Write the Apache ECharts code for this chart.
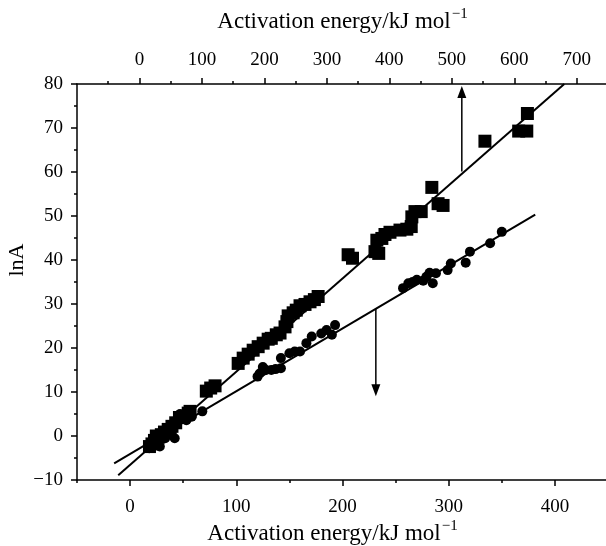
<!DOCTYPE html>
<html><head><meta charset="utf-8">
<script src="https://cdn.jsdelivr.net/npm/echarts@6/dist/echarts.min.js"></script>
<style>html,body{margin:0;padding:0;background:#fff}#c{width:606px;height:546px}</style>
</head><body><div id="c"></div>
<script>
// Squares: plotted against the TOP axis (activation energy, kJ/mol), lnA
const squarePoints = [
  [16,-2.4],[20,-1.8],[24,-1.0],[27,0.0],[30,-0.3],[35,0.3],[40,0.9],[46,1.5],[49,1.4],[52,2.2],
  [58,3.0],[64,4.2],[70,4.4],[78,5.2],[81,5.6],
  [107,10.2],[114,10.9],[121,11.4],
  [158,16.5],[166,17.7],[174,18.6],[182,19.5],[190,20.3],[198,21.1],[206,22.0],[211,22.2],
  [219,23.0],[225,23.4],[233,24.8],[236,26.0],[238,27.3],[246,28.0],[251,28.6],[257,29.6],
  [265,29.9],[273,30.5],[280,31.0],[286,31.7],
  [334,41.2],[341,40.4],
  [377,41.9],[383,41.5],[380,44.5],[388,44.9],[393,45.8],[401,46.3],[417,46.8],[428,47.0],
  [435,47.6],[436,49.8],[441,51.0],[451,51.0],
  [468,56.5],[478,52.8],[486,52.4],
  [553,67.0],[607,69.3],[620,69.3],[621,73.3]
];
// Circles: plotted against the BOTTOM axis (activation energy, kJ/mol), lnA
const circlePoints = [
  [18,-2.8],[22,-1.8],[28,-2.4],[33,-0.5],[38,0.4],[42,-0.5],[47,5.0],[53,3.6],[58,4.4],[68,5.6],
  [120,13.5],[122,14.2],[125,15.7],[128,15.0],[133,15.0],[137,15.2],[142,15.4],[142,17.7],
  [150,18.8],[155,19.2],[160,19.2],[166,21.1],[171,22.6],[180,23.3],[185,24.1],[190,23.0],[193,25.2],
  [257,33.6],[262,34.7],[266,35.0],[270,35.5],[276,35.3],[279,36.2],[282,37.1],[285,34.7],
  [288,37.0],[299,37.7],[302,39.2],[316,39.4],[320,41.9],[339,43.8],[350,46.4]
];
// Fitted lines (endpoints)
const squareFit = [[-34,-8.9],[680,80]];
const circleFit = [[-15,-6.2],[381.5,50.3]];
// Arrows: [x, yStart, yEnd]
const upArrow = [516, 60.1, 78.2];
const downArrow = [231.4, 29.0, 10.4];
// Tick values
const topTicks = [0,100,200,300,400,500,600,700];
const topMinor = [-50,50,150,250,350,450,550,650,750];
const bottomTicks = [0,100,200,300,400];
const bottomMinor = [-50,50,150,250,350,450];
const xTitle = 'Activation energy/kJ mol{s|\u22121}';
const yTitle = 'lnA';

const FONT = 'Liberation Serif';
const BLACK = '#000';
function nameStyle(pad) {
  return {
    fontFamily: FONT, fontSize: 23, color: BLACK, padding: pad,
    rich: { s: { fontFamily: FONT, fontSize: 15, color: BLACK, verticalAlign: 'top', padding: [0,0,14,1] } }
  };
}
function majorX(pos, min, max, ticks, gap, margin, pad) {
  return {
    type: 'value', position: pos, min: min, max: max,
    name: xTitle, nameLocation: 'middle', nameGap: gap, nameTextStyle: nameStyle(pad),
    nameMoveOverlap: false,
    axisLine: { show: true, onZero: false, lineStyle: { color: BLACK, width: 1.5 } },
    axisTick: { show: true, inside: false, length: 6, customValues: ticks, lineStyle: { color: BLACK, width: 1.5 } },
    axisLabel: { show: true, customValues: ticks, margin: margin, fontFamily: FONT, fontSize: 19, color: BLACK },
    splitLine: { show: false }
  };
}
function minorX(pos, min, max, ticks) {
  return {
    type: 'value', position: pos, min: min, max: max,
    axisLine: { show: false, onZero: false },
    axisTick: { show: true, inside: false, length: 3, customValues: ticks, lineStyle: { color: BLACK, width: 1.5 } },
    axisLabel: { show: false },
    splitLine: { show: false }
  };
}

const chart = echarts.init(document.getElementById('c'), null, { renderer: 'canvas' });
chart.setOption({
  animation: false,
  backgroundColor: '#fff',
  grid: { left: 77, top: 84, width: 531, bottom: 66, containLabel: false, outerBoundsMode: 'none' },
  xAxis: [
    majorX('top', -100, 750, topTicks, 48, 14, [0,0,0,0]),
    minorX('top', -100, 750, topMinor),
    majorX('bottom', -50, 450, bottomTicks, 39, 18, [0,20,0,0]),
    minorX('bottom', -50, 450, bottomMinor)
  ],
  yAxis: {
    type: 'value', min: -10, max: 80, interval: 10,
    name: yTitle, nameLocation: 'middle', nameGap: 49, nameMoveOverlap: false,
    nameTextStyle: { fontFamily: FONT, fontSize: 22, color: BLACK, padding: [0,0,0,44] },
    axisLine: { show: true, onZero: false, lineStyle: { color: BLACK, width: 1.5 } },
    axisTick: { show: true, inside: false, length: 6, lineStyle: { color: BLACK, width: 1.5 } },
    minorTick: { show: true, splitNumber: 2, length: 3, lineStyle: { color: BLACK, width: 1.5 } },
    axisLabel: { margin: 14, fontFamily: FONT, fontSize: 19, color: BLACK,
      formatter: v => String(v).replace('-', '\u2212') },
    splitLine: { show: false }, minorSplitLine: { show: false }
  },
  series: [
    { type: 'line', xAxisIndex: 0, data: squareFit, symbol: 'none', lineStyle: { color: BLACK, width: 2 }, z: 1 },
    { type: 'line', xAxisIndex: 2, data: circleFit, symbol: 'none', lineStyle: { color: BLACK, width: 2 }, z: 1 },
    { type: 'scatter', xAxisIndex: 0, data: squarePoints, symbol: 'rect', symbolSize: 13,
      itemStyle: { color: BLACK, opacity: 1 }, z: 2 },
    { type: 'scatter', xAxisIndex: 2, data: circlePoints, symbol: 'circle', symbolSize: 10,
      itemStyle: { color: BLACK, opacity: 1 }, z: 2 },
    { type: 'line', xAxisIndex: 0, lineStyle: { color: BLACK, width: 1.5 }, itemStyle: { color: BLACK },
      data: [ { value: [upArrow[0], upArrow[1]], symbol: 'none' },
              { value: [upArrow[0], upArrow[2]], symbol: 'triangle', symbolSize: [9, 12] } ] },
    { type: 'line', xAxisIndex: 2, lineStyle: { color: BLACK, width: 1.5 }, itemStyle: { color: BLACK },
      data: [ { value: [downArrow[0], downArrow[1]], symbol: 'none' },
              { value: [downArrow[0], downArrow[2]], symbol: 'triangle', symbolSize: [9, 12], symbolRotate: 180 } ] }
  ]
});
</script></body></html>
